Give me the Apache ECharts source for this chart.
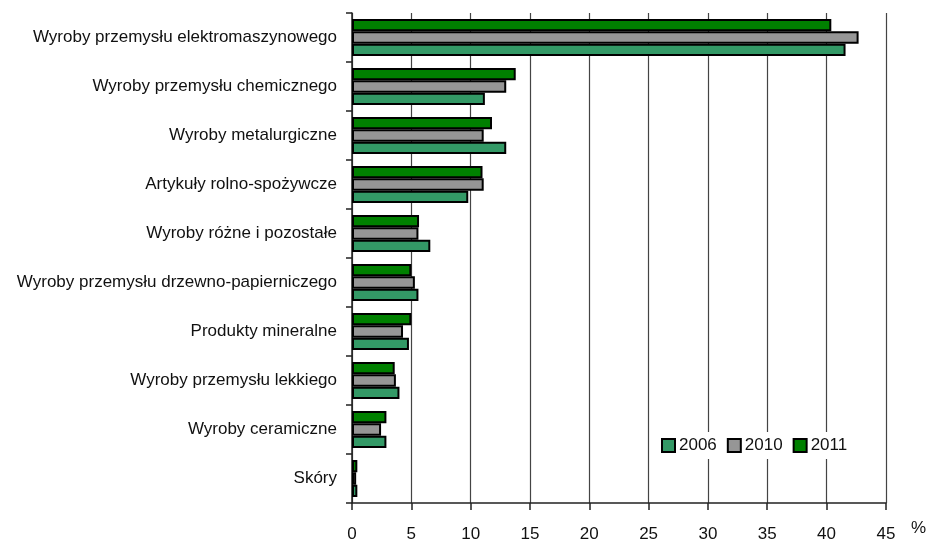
<!DOCTYPE html>
<html>
<head>
<meta charset="utf-8">
<script src="https://cdn.jsdelivr.net/npm/echarts@6/dist/echarts.min.js"></script>
<style>html,body{margin:0;padding:0;background:#fff}#c{width:929px;height:543px}</style>
</head>
<body>
<div id="c"></div>
<script>
var categories = ['Wyroby przemysłu elektromaszynowego', 'Wyroby przemysłu chemicznego', 'Wyroby metalurgiczne', 'Artykuły rolno-spożywcze', 'Wyroby różne i pozostałe', 'Wyroby przemysłu drzewno-papierniczego', 'Produkty mineralne', 'Wyroby przemysłu lekkiego', 'Wyroby ceramiczne', 'Skóry'];
var v2006 = [41.6, 11.2, 13.0, 9.8, 6.6, 5.6, 4.8, 4.0, 2.9, 0.45];
var v2010 = [42.7, 13.0, 11.1, 11.1, 5.6, 5.3, 4.3, 3.7, 2.45, 0.35];
var v2011 = [40.4, 13.8, 11.8, 11.0, 5.65, 5.0, 5.0, 3.6, 2.9, 0.45];
var xTicks = [0, 5, 10, 15, 20, 25, 30, 35, 40, 45];

var chart = echarts.init(document.getElementById('c'));
function bar(name, data, color) {
  return {
    name: name, type: 'bar', data: data,
    barGap: 0, barCategoryGap: '24%',
    itemStyle: { color: color, borderColor: '#000', borderWidth: 2 }
  };
}
chart.setOption({
  animation: false,
  backgroundColor: '#fff',
  textStyle: { fontFamily: 'Liberation Sans, Arial, sans-serif' },
  grid: { left: 352, right: 43, top: 13, bottom: 39, containLabel: false },
  legend: {
    data: ['2006', '2010', '2011'],
    left: 655, top: 432,
    itemWidth: 13, itemHeight: 13, itemGap: 10,
    backgroundColor: '#fff', padding: [5, 6],
    icon: 'rect',
    itemStyle: { borderColor: '#000', borderWidth: 2 },
    textStyle: { fontSize: 17, color: '#111', padding: [0, 0, 0, -1] }
  },
  xAxis: {
    type: 'value', min: xTicks[0], max: xTicks[xTicks.length - 1], interval: 5,
    name: '%', nameLocation: 'end', nameGap: 25,
    nameTextStyle: { fontSize: 17, color: '#111', verticalAlign: 'top', padding: [17, 0, 0, 0] },
    axisLine: { show: true, lineStyle: { color: '#222', width: 1.5 } },
    axisTick: { show: true, length: 7, lineStyle: { color: '#222', width: 1.5 } },
    axisLabel: { fontSize: 17, color: '#111', margin: 23 },
    splitLine: { show: true, lineStyle: { color: '#444', width: 1.2 } }
  },
  yAxis: {
    type: 'category', data: categories, inverse: true,
    axisLine: { show: true, lineStyle: { color: '#222', width: 1.5 } },
    axisTick: { show: true, length: 6, lineStyle: { color: '#222', width: 1.5 } },
    axisLabel: { fontSize: 17, color: '#111', margin: 15 },
    splitLine: { show: false }
  },
  series: [
    bar('2011', v2011, '#008000'),
    bar('2010', v2010, '#969696'),
    bar('2006', v2006, '#339966')
  ]
});
</script>
</body>
</html>
